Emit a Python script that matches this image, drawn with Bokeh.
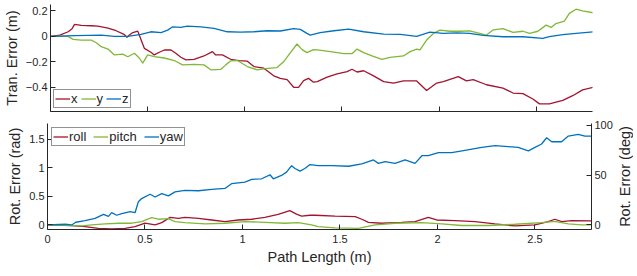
import math
from bokeh.plotting import figure
from bokeh.models import Range1d, LinearAxis, FixedTicker
from bokeh.layouts import column, row
from bokeh.core.properties import value
from bokeh.embed import file_html
from bokeh.resources import INLINE

# ---------------- data ----------------
# Translation error (m) vs path length (m)
tx_L = [0, 0.048, 0.091, 0.111, 0.124, 0.159, 0.21, 0.244, 0.296, 0.338, 0.381, 0.394, 0.406, 0.424,
        0.449, 0.457, 0.470, 0.483, 0.517, 0.534, 0.56, 0.586, 0.62, 0.645, 0.671, 0.697, 0.739, 0.79,
        0.834, 0.85, 0.885, 0.927, 0.97, 1.013, 1.047, 1.098, 1.149, 1.183, 1.218, 1.252, 1.277, 1.303,
        1.328, 1.354, 1.373, 1.424, 1.475, 1.527, 1.552, 1.578, 1.612, 1.663, 1.715, 1.766, 1.817,
        1.885, 1.936, 1.988, 2.022, 2.099, 2.141, 2.176, 2.244, 2.329, 2.381, 2.432, 2.483, 2.517,
        2.568, 2.637, 2.688, 2.739, 2.794]
tx_v = [0, 0.01, 0.036, 0.06, 0.094, 0.086, 0.083, 0.08, 0.065, 0.044, 0.013, -0.008, 0.01, 0.03,
        0.041, 0.01, -0.042, -0.094, -0.125, -0.146, -0.125, -0.107, -0.107, -0.133, -0.164, -0.185,
        -0.18, -0.154, -0.12, -0.146, -0.146, -0.18, -0.19, -0.195, -0.237, -0.25, -0.31, -0.33, -0.34,
        -0.40, -0.40, -0.347, -0.33, -0.36, -0.355, -0.32, -0.295, -0.277, -0.258, -0.28, -0.27, -0.31,
        -0.355, -0.367, -0.35, -0.35, -0.425, -0.367, -0.355, -0.316, -0.35, -0.34, -0.38, -0.406,
        -0.445, -0.45, -0.492, -0.53, -0.53, -0.503, -0.466, -0.42, -0.40]

ty_L = [0, 0.091, 0.116, 0.159, 0.21, 0.236, 0.261, 0.296, 0.329, 0.372, 0.398, 0.432, 0.457, 0.475,
        0.5, 0.534, 0.586, 0.637, 0.68, 0.739, 0.79, 0.825, 0.876, 0.902, 0.927, 0.962, 1.013, 1.064,
        1.098, 1.132, 1.166, 1.2, 1.235, 1.269, 1.295, 1.32, 1.354, 1.373, 1.441, 1.51, 1.552, 1.578,
        1.612, 1.655, 1.706, 1.748, 1.817, 1.851, 1.885, 1.902, 1.936, 1.971, 2.005, 2.056, 2.107,
        2.158, 2.21, 2.244, 2.278, 2.329, 2.381, 2.432, 2.466, 2.509, 2.551, 2.577, 2.602, 2.645,
        2.671, 2.705, 2.739, 2.794]
ty_v = [0, 0, -0.024, -0.029, -0.03, -0.05, -0.081, -0.1, -0.146, -0.14, -0.16, -0.133, -0.17, -0.21,
        -0.146, -0.16, -0.17, -0.19, -0.224, -0.22, -0.224, -0.263, -0.26, -0.224, -0.193, -0.19,
        -0.237, -0.263, -0.255, -0.25, -0.245, -0.2, -0.128, -0.06, -0.104, -0.128, -0.104, -0.107,
        -0.12, -0.136, -0.136, -0.1, -0.128, -0.154, -0.18, -0.165, -0.154, -0.12, -0.1, -0.107,
        -0.029, 0.023, 0.049, 0.04, 0.04, 0.043, 0.023, 0.01, 0.05, 0.06, 0.031, 0.04, 0.023, 0.04,
        0.088, 0.07, 0.1, 0.12, 0.18, 0.213, 0.2, 0.185]

tz_L = [0, 0.124, 0.193, 0.261, 0.329, 0.398, 0.466, 0.517, 0.569, 0.603, 0.629, 0.671, 0.705, 0.774,
        0.842, 0.91, 0.978, 1.047, 1.115, 1.183, 1.252, 1.286, 1.32, 1.337, 1.388, 1.459, 1.535,
        1.612, 1.715, 1.8, 1.885, 1.953, 2.022, 2.09, 2.158, 2.227, 2.329, 2.432, 2.534, 2.568,
        2.637, 2.705, 2.794]
tz_v = [0, 0.005, 0.008, 0.01, 0, 0, 0.016, 0.036, 0.03, 0.049, 0.075, 0.07, 0.08, 0.075, 0.062,
        0.036, 0.033, 0.036, 0.044, 0.042, 0.06, 0.055, 0.023, 0.01, 0.03, 0.044, 0.057, 0.036,
        0.018, 0.016, 0, 0.033, 0.023, 0.028, 0.023, 0.008, -0.003, -0.003, -0.016, -0.003, 0.013,
        0.023, 0.036]

# Rotation error (rad) vs path length (m)
roll_L = [0, 0.124, 0.193, 0.261, 0.329, 0.398, 0.449, 0.5, 0.552, 0.586, 0.629, 0.671, 0.705, 0.774,
          0.842, 0.91, 0.978, 1.047, 1.115, 1.183, 1.243, 1.277, 1.303, 1.346, 1.373, 1.475, 1.578,
          1.612, 1.646, 1.715, 1.817, 1.885, 1.953, 1.996, 2.09, 2.193, 2.295, 2.398, 2.5, 2.568,
          2.602, 2.637, 2.688, 2.794]
roll_v = [0, -0.012, -0.03, -0.06, -0.07, -0.06, -0.03, 0.03, 0, 0.04, 0.133, 0.116, 0.133, 0.116,
          0.087, 0.058, 0.087, 0.1, 0.133, 0.186, 0.25, 0.19, 0.155, 0.17, 0.17, 0.155, 0.145, 0.1,
          0.046, 0.03, 0.046, 0.058, 0.133, 0.087, 0.075, 0.058, 0.017, -0.017, 0, 0.058, 0.1, 0.058,
          0.075, 0.07]

pitch_L = [0, 0.176, 0.227, 0.296, 0.364, 0.432, 0.483, 0.534, 0.569, 0.62, 0.654, 0.705, 0.808,
           0.91, 1.013, 1.115, 1.218, 1.286, 1.354, 1.388, 1.475, 1.595, 1.68, 1.783, 1.92, 2.022,
           2.124, 2.261, 2.398, 2.534, 2.602, 2.671, 2.739, 2.794]
pitch_v = [0, -0.017, 0, 0.017, 0.03, 0.03, 0.058, 0.128, 0.1, 0.11, 0.058, 0.04, 0.017, 0.03, 0.058,
           0.046, 0.03, 0.04, 0, -0.03, -0.05, -0.06, 0, 0.03, 0.04, 0.017, -0.01, -0.01, 0.012,
           0.04, 0.064, 0.017, 0, 0]

yaw_L = [0, 0.091, 0.124, 0.145, 0.193, 0.244, 0.287, 0.3125, 0.329, 0.355, 0.381, 0.424, 0.449,
         0.466, 0.483, 0.526, 0.552, 0.586, 0.62, 0.654, 0.705, 0.774, 0.842, 0.91, 0.944, 1.013,
         1.047, 1.098, 1.141, 1.158, 1.2, 1.226, 1.252, 1.269, 1.295, 1.32, 1.346, 1.388, 1.459,
         1.544, 1.612, 1.672, 1.697, 1.732, 1.783, 1.834, 1.885, 1.92, 1.953, 2.005, 2.073, 2.141,
         2.227, 2.295, 2.363, 2.414, 2.466, 2.5, 2.534, 2.56, 2.586, 2.637, 2.671, 2.722, 2.756, 2.794]
yaw_v = [0, 0.012, 0, 0.047, 0.076, 0.116, 0.186, 0.15, 0.215, 0.17, 0.2, 0.232, 0.215, 0.406, 0.463,
         0.538, 0.49, 0.55, 0.51, 0.58, 0.608, 0.6, 0.625, 0.64, 0.724, 0.753, 0.8, 0.81, 0.88, 0.81,
         0.868, 0.927, 1.04, 0.99, 0.944, 0.99, 1.06, 1.04, 1.04, 1.03, 1.07, 1.14, 1.08, 1.11, 1.08,
         1.14, 1.08, 1.215, 1.215, 1.27, 1.27, 1.31, 1.36, 1.39, 1.375, 1.36, 1.30, 1.36, 1.42, 1.53,
         1.46, 1.46, 1.56, 1.59, 1.56, 1.56]

x_ticks = [0, 0.5, 1, 1.5, 2, 2.5]
tran_ticks = [-0.4, -0.2, 0, 0.2]
rad_ticks = [0, 0.5, 1, 1.5]
deg_ticks = [0, 50, 100]
deg_title = "Rot. Error (deg)"

x_range = (0, 2.79)
tran_range = (-0.59, 0.25)
rad_range = (-0.08, 1.78)

RED = "#A2142F"
GREEN = "#80B837"
BLUE = "#0072BD"
INK = "#262626"
FONT = "Liberation Sans"
LABEL_SIZE = "14.5px"


def style_axis(ax, ticks, overrides=None):
    ax.ticker = FixedTicker(ticks=ticks)
    ax.major_tick_in = 5
    ax.major_tick_out = 0
    ax.minor_tick_line_color = None
    ax.axis_line_color = INK
    ax.major_tick_line_color = INK
    ax.major_label_text_color = INK
    ax.major_label_text_font = FONT
    ax.major_label_text_font_size = "11px"
    ax.major_label_standoff = 3
    ax.axis_label_text_font = FONT
    ax.axis_label_text_font_size = LABEL_SIZE
    ax.axis_label_text_font_style = "normal"
    ax.axis_label_text_color = INK
    ax.axis_label_standoff = 3
    if overrides:
        ax.major_label_overrides = overrides


def style_legend(p, loc, margin, spacing):
    lg = p.legend[0]
    lg.orientation = "horizontal"
    lg.location = loc
    lg.margin = margin
    lg.padding = 1
    lg.spacing = spacing
    lg.glyph_width = 15
    lg.glyph_height = 13
    lg.label_height = 13
    lg.label_width = 0
    lg.label_standoff = 1
    lg.label_text_font = FONT
    lg.label_text_font_size = "13px"
    lg.label_text_color = INK
    lg.border_line_color = INK
    lg.border_line_width = 1
    lg.background_fill_alpha = 1.0


def strip(height, top, bottom):
    s = figure(width=TW, height=height, output_backend="svg", toolbar_location=None,
               x_range=Range1d(0, 1), y_range=Range1d(*rad_range),
               min_border_left=0, min_border_right=0, min_border_top=top, min_border_bottom=bottom)
    s.axis.visible = False
    s.grid.visible = False
    s.outline_line_color = None
    return s


W = 633
LB = 47          # same left border for both panels so the plot frames line up
RBP = 23         # right border of the panels (right-hand tick labels)
TW = 18          # width of the strip holding the right-hand axis title
TT, TB = 4, 6    # top panel top / bottom borders
BT, BB = 6, 36   # bottom panel top / bottom borders

# ---------------- top panel ----------------
p1 = figure(width=W - TW, height=117, output_backend="svg", toolbar_location=None,
            x_range=Range1d(*x_range), y_range=Range1d(*tran_range),
            min_border_left=LB, min_border_right=RBP, min_border_top=TT, min_border_bottom=TB)
p1.outline_line_color = None
p1.grid.visible = False
p1.line(tx_L, tx_v, color=RED, line_width=1.3, legend_label="x")
p1.line(ty_L, ty_v, color=GREEN, line_width=1.3, legend_label="y")
p1.line(tz_L, tz_v, color=BLUE, line_width=1.3, legend_label="z")
style_axis(p1.xaxis[0], x_ticks)
p1.xaxis[0].major_label_text_font_size = "1px"
p1.xaxis[0].major_label_text_color = None
p1.xaxis[0].major_label_standoff = 0
style_axis(p1.yaxis[0], tran_ticks, {0: "0"})
p1.yaxis[0].axis_label = "Tran. Error (m)"
style_legend(p1, "bottom_left", 3, 3)
s1 = strip(117, TT, TB)

# ---------------- bottom panel ----------------
p2 = figure(width=W - TW, height=150, output_backend="svg", toolbar_location=None,
            x_range=Range1d(*x_range), y_range=Range1d(*rad_range),
            min_border_left=LB, min_border_right=RBP, min_border_top=BT, min_border_bottom=BB)
p2.outline_line_color = None
p2.grid.visible = False
p2.extra_y_ranges = {"deg": Range1d(rad_range[0] * 180 / math.pi, rad_range[1] * 180 / math.pi)}
p2.line(roll_L, roll_v, color=RED, line_width=1.3, legend_label="roll")
p2.line(pitch_L, pitch_v, color=GREEN, line_width=1.3, legend_label="pitch")
p2.line(yaw_L, yaw_v, color=BLUE, line_width=1.3, legend_label="yaw")
style_axis(p2.xaxis[0], x_ticks, {0: "0", 1: "1", 2: "2"})
p2.xaxis[0].axis_label = "Path Length (m)"
p2.xaxis[0].major_label_standoff = 5
p2.xaxis[0].axis_label_standoff = 3
style_axis(p2.yaxis[0], rad_ticks, {0: "0", 1: "1"})
p2.yaxis[0].axis_label = "Rot. Error (rad)"
rax = LinearAxis(y_range_name="deg")
style_axis(rax, deg_ticks)
p2.add_layout(rax, "right")
style_legend(p2, "top_left", 4, 7)

# right-hand axis title (reads bottom-to-top like the left one)
s2 = strip(150, BT, BB)
s2.text(x=[0.5], y=[(rad_range[0] + rad_range[1]) / 2], text=[deg_title], angle=math.pi / 2,
        text_align="center", text_baseline="middle", text_font=value(FONT),
        text_font_size=LABEL_SIZE, text_color=INK)

layout = column(row(p1, s1, spacing=0), row(p2, s2, spacing=0), spacing=0)
open("out.html", "w").write(file_html(layout, INLINE))
